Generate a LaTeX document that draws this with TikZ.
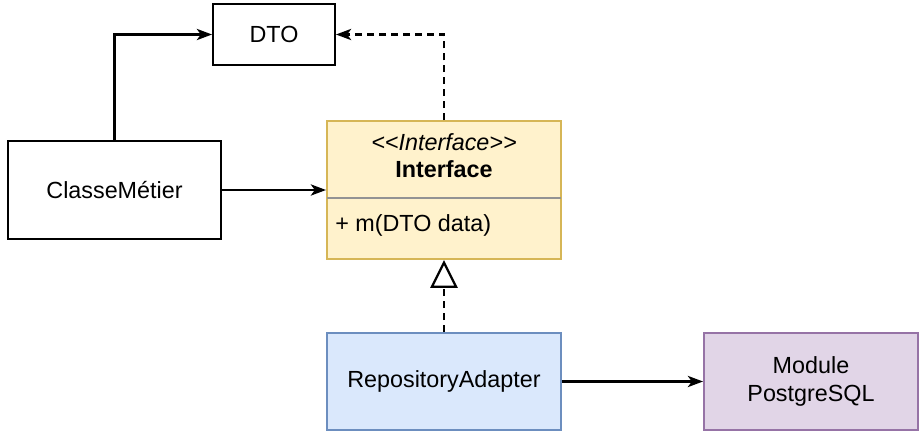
\documentclass[tikz,border=0pt]{standalone}
\usepackage{fontspec}
\setmainfont{Liberation Sans}
\usetikzlibrary{positioning, calc, arrows.meta, backgrounds}
\definecolor{ifaceFill}{HTML}{FFF2CC}
\definecolor{ifaceDraw}{HTML}{D6B656}
\definecolor{adapterFill}{HTML}{DAE8FC}
\definecolor{adapterDraw}{HTML}{6C8EBF}
\definecolor{moduleFill}{HTML}{E1D5E7}
\definecolor{moduleDraw}{HTML}{9673A6}
\tikzset{classNode/.style={shape=rectangle, align=center, draw, line width=1.4pt, fill=white, inner sep=0pt, font=\fontsize{16.6}{20}\selectfont}}
\tikzset{annotation/.style={shape=rectangle, align=center, draw=none, inner sep=0pt, font=\fontsize{16.6}{20}\selectfont}}
\tikzset{uses/.style={line width=1.6pt, -{Stealth[length=0.38cm, width=0.28cm, inset=0.1cm]}}}
\tikzset{realizes/.style={line width=1.6pt, dash pattern=on 5pt off 3.5pt, -{Triangle[open, length=0.7cm, width=0.68cm, fill=white]}}}

\begin{document}
\begin{tikzpicture}[
  background rectangle/.style={fill=white}, show background rectangle]

\useasboundingbox (0,0) rectangle (23.075,-10.975);

% DTO
\node[classNode, minimum width=3.05cm, minimum height=1.525cm] (dto) at (6.85,-0.8625) {DTO};

% ClasseMetier
\node[classNode, minimum width=5.325cm, minimum height=2.45cm] (metier) at (2.8625,-4.75) {ClasseMétier};

% Interface (two compartments)
\node[classNode, draw=ifaceDraw, fill=ifaceFill, minimum width=5.85cm, minimum height=3.45cm] (iface) at (11.1,-4.75) {};
\draw[line width=1.4pt, draw=gray!85] ($(iface.north west)+(0.03,-1.95)$) -- ($(iface.north east)+(-0.03,-1.95)$);
\node[annotation, font=\fontsize{16.6}{20}\selectfont\itshape, below=0.32cm of iface.north] (stereo) {{<}{<}Interface{>}{>}};
\node[annotation, font=\fontsize{16.6}{20}\selectfont\bfseries, below=1.0cm of iface.north] (ifaceName) {Interface};
\node[annotation, anchor=west] (method) at ($(iface.north west)+(0.225,-2.625)$) {+ m(DTO data)};

% RepositoryAdapter
\node[classNode, draw=adapterDraw, fill=adapterFill, minimum width=5.85cm, minimum height=2.425cm] (adapter) at (11.1,-9.5375) {RepositoryAdapter};

% Module PostgreSQL
\node[classNode, draw=moduleDraw, fill=moduleFill, minimum width=5.35cm, minimum height=2.425cm] (module) at (20.275,-9.5375) {Module\\PostgreSQL};

% Connectors
\draw[uses] (metier.north) |- (dto.west);
\draw[realizes, -{Stealth[length=0.38cm, width=0.28cm, inset=0.1cm]}] (iface.north) |- (dto.east);
\draw[uses] (metier.east) -- (iface.west);
\draw[realizes] (adapter.north) -- (iface.south);
\draw[uses] (adapter.east) -- (module.west);

\end{tikzpicture}
\end{document}
